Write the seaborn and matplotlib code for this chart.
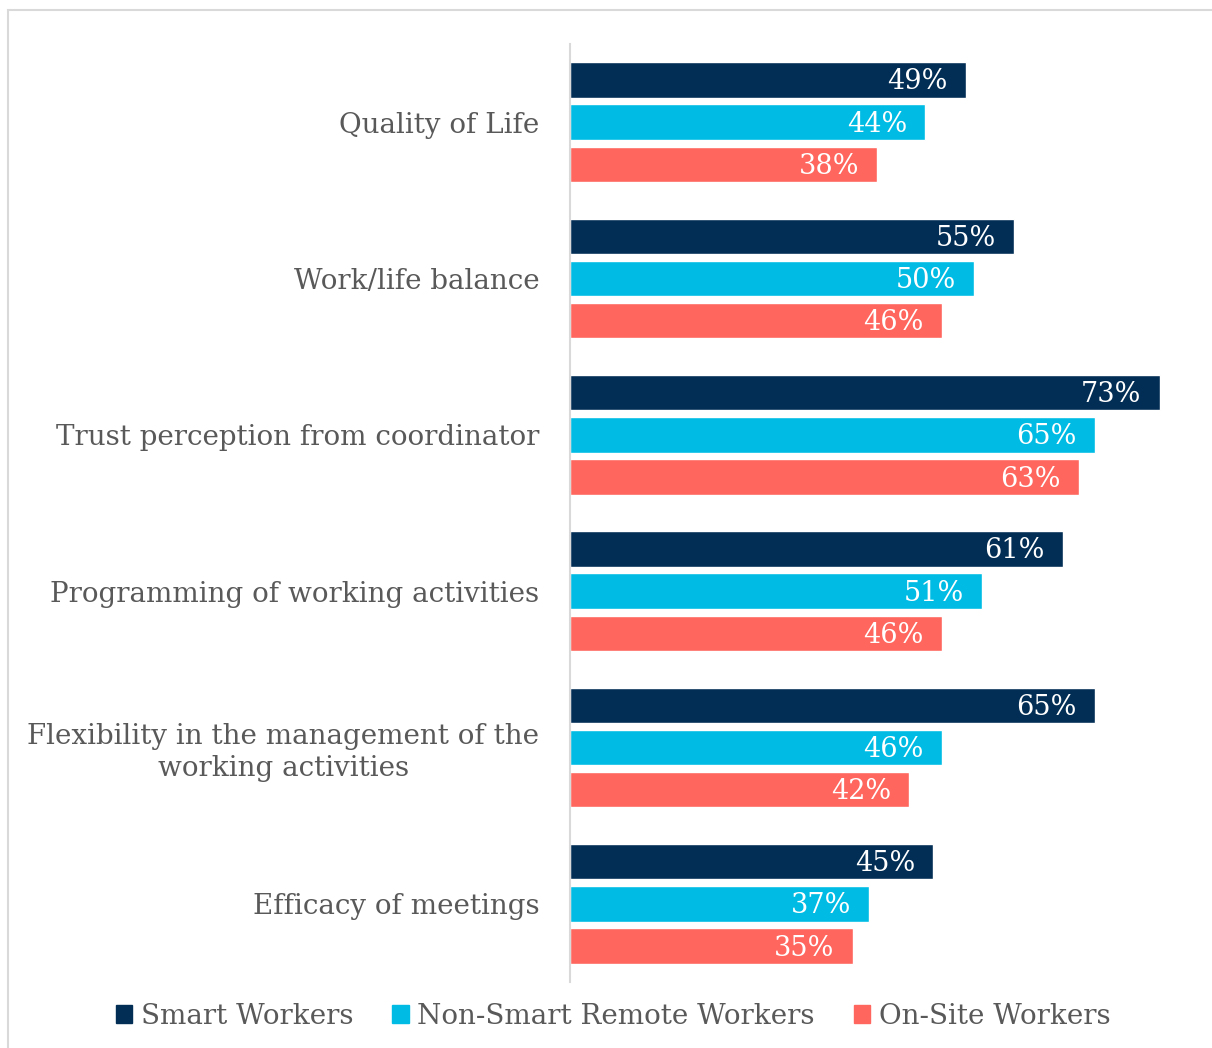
import matplotlib
matplotlib.use("Agg")
import matplotlib.pyplot as plt
from matplotlib.patches import Rectangle
from matplotlib.transforms import offset_copy
import seaborn as sns
import pandas as pd

categories = [
    "Quality of Life",
    "Work/life balance",
    "Trust perception from coordinator",
    "Programming of working activities",
    "Flexibility in the management of the\nworking activities",
    "Efficacy of meetings",
]
groups = ["Smart Workers", "Non-Smart Remote Workers", "On-Site Workers"]
smart_workers = [49, 55, 73, 61, 65, 45]
non_smart_remote = [44, 50, 65, 51, 46, 37]
on_site = [38, 46, 63, 46, 42, 35]

palette = {"Smart Workers": "#022e55",
           "Non-Smart Remote Workers": "#00bce4",
           "On-Site Workers": "#ff665e"}

df = pd.DataFrame({
    "category": categories * 3,
    "group": [groups[0]] * 6 + [groups[1]] * 6 + [groups[2]] * 6,
    "value": smart_workers + non_smart_remote + on_site,
})

sns.set_theme(style="white")
plt.rcParams["font.family"] = ["DejaVu Serif"]

fig = plt.figure(figsize=(12.12, 10.48), dpi=100)
W, H = 1212, 1048
ax = fig.add_axes([570 / W, 1 - 982 / H, 630 / W, (982 - 44) / H])

sns.barplot(data=df, y="category", x="value", hue="group", palette=palette,
            order=categories, hue_order=groups, orient="h",
            width=0.81, gap=0.16, saturation=1, legend=False, ax=ax)

ax.set_xlim(0, 78)
ax.set_ylim(5.5, -0.5)
ax.set_xlabel("")
ax.set_ylabel("")
ax.set_xticks([])
for side in ["top", "right", "bottom"]:
    ax.spines[side].set_visible(False)
ax.spines["left"].set_color("#d9d9d9")
ax.spines["left"].set_linewidth(1.5)

ax.tick_params(axis="y", length=0, pad=22, labelsize=20, labelcolor="#595959")
for lbl in ax.get_yticklabels():
    lbl.set_multialignment("center")

# value labels inside the bar ends
label_tf = offset_copy(ax.transData, fig=fig, x=-18, y=-2, units="dots")
for container in ax.containers:
    for bar, v in zip(container.patches, container.datavalues):
        yc = bar.get_y() + bar.get_height() / 2
        ax.text(bar.get_width(), yc, f"{int(v)}%", transform=label_tf,
                ha="right", va="center", color="white", fontsize=19.5)

# legend
handles = [Rectangle((0, 0), 1, 1, color=palette[g]) for g in groups]
fig.legend(handles, groups, loc="center", bbox_to_anchor=(613 / W, 1 - 1016 / H),
           ncol=3, frameon=False, fontsize=20, labelcolor="#595959",
           handlelength=0.6, handleheight=0.6, handletextpad=0.3, columnspacing=1.4)

# outer frame
fig.patches.append(Rectangle((8 / W, -0.05), 1.2, 1 - 10 / H + 0.05,
                             transform=fig.transFigure, fill=False,
                             edgecolor="#d9d9d9", linewidth=1.5))

fig.savefig("out.png", dpi=100, facecolor="white")
